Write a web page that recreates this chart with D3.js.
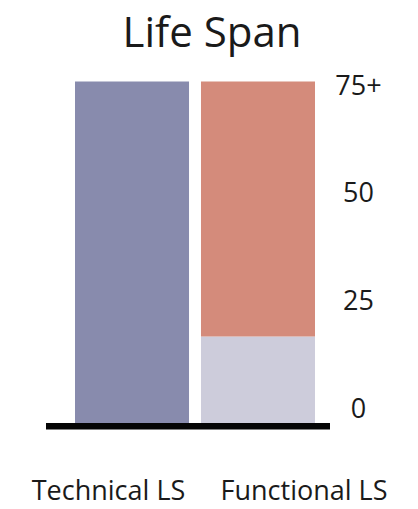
<!DOCTYPE html>
<html>
<head>
<meta charset="utf-8">
<script src="https://cdn.jsdelivr.net/npm/d3@7"></script>
<style>
  html, body { margin: 0; padding: 0; background: #ffffff; }
  svg { display: block; }
  text { font-family: "Open Sans", "Noto Sans", sans-serif; fill: #1a1a1a; }
</style>
</head>
<body>
<svg id="chart" width="418" height="509"></svg>
<script>
// Life span of a building element: technical vs functional
const categories = ["Technical LS", "Functional LS"];
// stacked segments (years), bottom to top
const baseSegment = [75, 19];     // lower part of each bar
const upperSegment = [0, 56];     // part stacked above it
const tickValues = [0, 25, 50, 75];
const tickLabels = ["0", "25", "50", "75+"];
const title = "Life Span";

const colors = {
  base: ["#888bad", "#cdccdb"],
  upper: "#d48b7b",
  baseline: "#050505"
};

const svg = d3.select("#chart");

const x = d3.scaleBand()
  .domain(categories)
  .range([75, 315])
  .paddingInner(0.095)
  .paddingOuter(0);

const y = d3.scaleLinear().domain([0, 75]).range([423, 81.5]);

// tick labels sit on their own, slightly tighter scale
const yTick = d3.scaleLinear().domain([0, 75]).range([408, 85]);

// category label anchors
const xLabel = d3.scalePoint().domain(categories).range([108.5, 304]);

const rows = categories.map((c, i) => ({
  cat: c, base: baseSegment[i], upper: upperSegment[i], i
}));

// lower segments
svg.append("g").selectAll("rect")
  .data(rows)
  .join("rect")
  .attr("x", d => x(d.cat))
  .attr("width", x.bandwidth())
  .attr("y", d => y(d.base))
  .attr("height", d => y(0) - y(d.base))
  .attr("fill", d => colors.base[d.i]);

// upper segments
svg.append("g").selectAll("rect")
  .data(rows.filter(d => d.upper > 0))
  .join("rect")
  .attr("x", d => x(d.cat))
  .attr("width", x.bandwidth())
  .attr("y", d => y(d.base + d.upper))
  .attr("height", d => y(d.base) - y(d.base + d.upper))
  .attr("fill", colors.upper);

// heavy baseline
svg.append("rect")
  .attr("x", 46)
  .attr("width", 284)
  .attr("y", y(0))
  .attr("height", 6.5)
  .attr("fill", colors.baseline);

// value labels on the right
svg.append("g").selectAll("text")
  .data(tickValues)
  .join("text")
  .attr("x", 358.5)
  .attr("y", d => yTick(d))
  .attr("dy", "0.36em")
  .attr("text-anchor", "middle")
  .attr("font-size", 27)
  .text((d, i) => tickLabels[i]);

// category labels
svg.append("g").selectAll("text")
  .data(categories)
  .join("text")
  .attr("x", d => xLabel(d))
  .attr("y", 500)
  .attr("text-anchor", "middle")
  .attr("font-size", 27)
  .text(d => d);

// title
svg.append("text")
  .attr("x", 212)
  .attr("y", 47)
  .attr("text-anchor", "middle")
  .attr("font-size", 42)
  .text(title);
</script>
</body>
</html>
